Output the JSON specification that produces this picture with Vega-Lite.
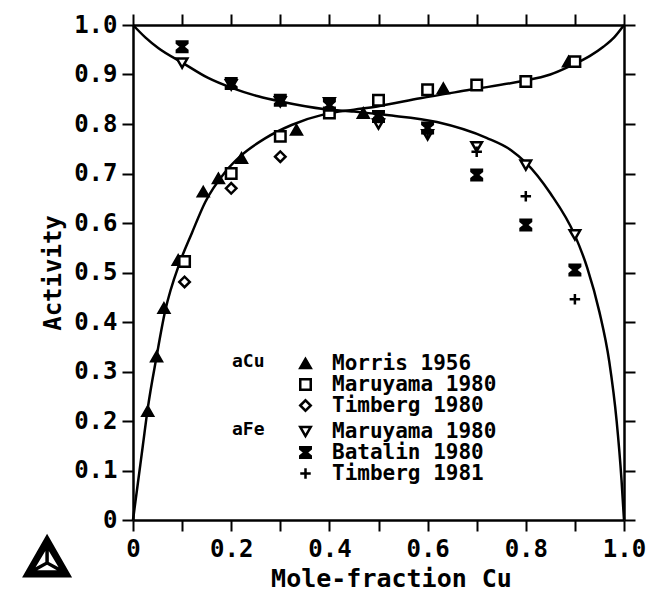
{
  "$schema": "https://vega.github.io/schema/vega-lite/v6.json",
  "width": 491,
  "height": 495,
  "autosize": "none",
  "padding": {"left": 133, "top": 25, "right": 33, "bottom": 72},
  "background": "white",
  "config": {
    "view": {"stroke": null},
    "font": "DejaVu Sans Mono",
    "axis": {
      "domainColor": "black", "domainWidth": 2.5, "tickColor": "black", "tickWidth": 2, "tickSize": 11,
      "grid": false, "labelColor": "black", "labelFont": "DejaVu Sans Mono", "labelFontWeight": "bold",
      "labelFontSize": 24, "titleFont": "DejaVu Sans Mono", "titleFontWeight": "bold", "titleColor": "black",
      "labelFlush": false, "labelOverlap": false
    },
    "legend": {
      "titleOrient": "left", "titleAnchor": "start", "titlePadding": 30,
      "titleFontSize": 18, "titleFont": "DejaVu Sans Mono", "titleFontWeight": "bold", "titleColor": "black",
      "labelFontSize": 21, "labelFont": "DejaVu Sans Mono", "labelFontWeight": "bold", "labelColor": "black",
      "labelLimit": 400, "labelOffset": 16, "rowPadding": -2, "symbolSize": 110, "symbolStrokeWidth": 2.5, "padding": 0
    }
  },
  "datasets": {
    "curves": [
      {"curve": "aCu", "x": 0, "y": 0}, {"curve": "aCu", "x": 0.01, "y": 0.075}, {"curve": "aCu", "x": 0.02, "y": 0.15},
      {"curve": "aCu", "x": 0.03, "y": 0.225}, {"curve": "aCu", "x": 0.048, "y": 0.33}, {"curve": "aCu", "x": 0.065, "y": 0.42},
      {"curve": "aCu", "x": 0.096, "y": 0.522}, {"curve": "aCu", "x": 0.12, "y": 0.58}, {"curve": "aCu", "x": 0.147, "y": 0.642},
      {"curve": "aCu", "x": 0.187, "y": 0.702}, {"curve": "aCu", "x": 0.221, "y": 0.737}, {"curve": "aCu", "x": 0.269, "y": 0.771},
      {"curve": "aCu", "x": 0.323, "y": 0.798}, {"curve": "aCu", "x": 0.391, "y": 0.82}, {"curve": "aCu", "x": 0.45, "y": 0.829},
      {"curve": "aCu", "x": 0.5, "y": 0.836}, {"curve": "aCu", "x": 0.585, "y": 0.852}, {"curve": "aCu", "x": 0.686, "y": 0.869},
      {"curve": "aCu", "x": 0.788, "y": 0.886}, {"curve": "aCu", "x": 0.85, "y": 0.9}, {"curve": "aCu", "x": 0.89, "y": 0.917},
      {"curve": "aCu", "x": 0.93, "y": 0.937}, {"curve": "aCu", "x": 0.958, "y": 0.956}, {"curve": "aCu", "x": 0.98, "y": 0.975},
      {"curve": "aCu", "x": 1, "y": 1},
      {"curve": "aFe", "x": 0, "y": 1}, {"curve": "aFe", "x": 0.025, "y": 0.975}, {"curve": "aFe", "x": 0.052, "y": 0.953},
      {"curve": "aFe", "x": 0.102, "y": 0.923}, {"curve": "aFe", "x": 0.153, "y": 0.893}, {"curve": "aFe", "x": 0.201, "y": 0.873},
      {"curve": "aFe", "x": 0.255, "y": 0.856}, {"curve": "aFe", "x": 0.303, "y": 0.845}, {"curve": "aFe", "x": 0.391, "y": 0.83},
      {"curve": "aFe", "x": 0.45, "y": 0.825}, {"curve": "aFe", "x": 0.517, "y": 0.818}, {"curve": "aFe", "x": 0.619, "y": 0.804},
      {"curve": "aFe", "x": 0.72, "y": 0.772}, {"curve": "aFe", "x": 0.77, "y": 0.747}, {"curve": "aFe", "x": 0.8, "y": 0.722},
      {"curve": "aFe", "x": 0.85, "y": 0.66}, {"curve": "aFe", "x": 0.9, "y": 0.575}, {"curve": "aFe", "x": 0.925, "y": 0.51},
      {"curve": "aFe", "x": 0.95, "y": 0.42}, {"curve": "aFe", "x": 0.97, "y": 0.32}, {"curve": "aFe", "x": 0.985, "y": 0.2},
      {"curve": "aFe", "x": 0.995, "y": 0.08}, {"curve": "aFe", "x": 1, "y": 0}
    ],
    "points": [
      {"comp": "aCu", "series": "Morris 1956", "x": 0.03, "y": 0.22},
      {"comp": "aCu", "series": "Morris 1956", "x": 0.048, "y": 0.33},
      {"comp": "aCu", "series": "Morris 1956", "x": 0.063, "y": 0.428},
      {"comp": "aCu", "series": "Morris 1956", "x": 0.092, "y": 0.525},
      {"comp": "aCu", "series": "Morris 1956", "x": 0.143, "y": 0.663},
      {"comp": "aCu", "series": "Morris 1956", "x": 0.174, "y": 0.69},
      {"comp": "aCu", "series": "Morris 1956", "x": 0.221, "y": 0.731},
      {"comp": "aCu", "series": "Morris 1956", "x": 0.333, "y": 0.788},
      {"comp": "aCu", "series": "Morris 1956", "x": 0.469, "y": 0.822},
      {"comp": "aCu", "series": "Morris 1956", "x": 0.632, "y": 0.872},
      {"comp": "aCu", "series": "Morris 1956", "x": 0.887, "y": 0.926},
      {"comp": "aCu", "series": "Maruyama 1980", "x": 0.105, "y": 0.522},
      {"comp": "aCu", "series": "Maruyama 1980", "x": 0.2, "y": 0.7},
      {"comp": "aCu", "series": "Maruyama 1980", "x": 0.3, "y": 0.775},
      {"comp": "aCu", "series": "Maruyama 1980", "x": 0.4, "y": 0.822},
      {"comp": "aCu", "series": "Maruyama 1980", "x": 0.5, "y": 0.848},
      {"comp": "aCu", "series": "Maruyama 1980", "x": 0.6, "y": 0.869},
      {"comp": "aCu", "series": "Maruyama 1980", "x": 0.7, "y": 0.879},
      {"comp": "aCu", "series": "Maruyama 1980", "x": 0.8, "y": 0.886},
      {"comp": "aCu", "series": "Maruyama 1980", "x": 0.9, "y": 0.926},
      {"comp": "aCu", "series": "Timberg 1980", "x": 0.105, "y": 0.481},
      {"comp": "aCu", "series": "Timberg 1980", "x": 0.2, "y": 0.67},
      {"comp": "aCu", "series": "Timberg 1980", "x": 0.3, "y": 0.734},
      {"comp": "aCu", "series": "Timberg 1980", "x": 0.5, "y": 0.81},
      {"comp": "aFe", "series": "Maruyama 1980", "x": 0.1, "y": 0.923},
      {"comp": "aFe", "series": "Maruyama 1980", "x": 0.2, "y": 0.879},
      {"comp": "aFe", "series": "Maruyama 1980", "x": 0.3, "y": 0.845},
      {"comp": "aFe", "series": "Maruyama 1980", "x": 0.4, "y": 0.843},
      {"comp": "aFe", "series": "Maruyama 1980", "x": 0.5, "y": 0.8},
      {"comp": "aFe", "series": "Maruyama 1980", "x": 0.6, "y": 0.778},
      {"comp": "aFe", "series": "Maruyama 1980", "x": 0.7, "y": 0.754},
      {"comp": "aFe", "series": "Maruyama 1980", "x": 0.8, "y": 0.717},
      {"comp": "aFe", "series": "Maruyama 1980", "x": 0.9, "y": 0.576},
      {"comp": "aFe", "series": "Batalin 1980", "x": 0.1, "y": 0.956},
      {"comp": "aFe", "series": "Batalin 1980", "x": 0.2, "y": 0.882},
      {"comp": "aFe", "series": "Batalin 1980", "x": 0.3, "y": 0.848},
      {"comp": "aFe", "series": "Batalin 1980", "x": 0.4, "y": 0.838},
      {"comp": "aFe", "series": "Batalin 1980", "x": 0.5, "y": 0.815},
      {"comp": "aFe", "series": "Batalin 1980", "x": 0.6, "y": 0.792},
      {"comp": "aFe", "series": "Batalin 1980", "x": 0.7, "y": 0.697},
      {"comp": "aFe", "series": "Batalin 1980", "x": 0.8, "y": 0.596},
      {"comp": "aFe", "series": "Batalin 1980", "x": 0.9, "y": 0.505},
      {"comp": "aFe", "series": "Timberg 1981", "x": 0.5, "y": 0.812},
      {"comp": "aFe", "series": "Timberg 1981", "x": 0.6, "y": 0.782},
      {"comp": "aFe", "series": "Timberg 1981", "x": 0.7, "y": 0.744},
      {"comp": "aFe", "series": "Timberg 1981", "x": 0.8, "y": 0.654},
      {"comp": "aFe", "series": "Timberg 1981", "x": 0.9, "y": 0.446}
    ],
    "logo": [{"x": -0.175, "y": -0.073}]
  },
  "layer": [
    {
      "data": {"name": "curves"},
      "mark": {"type": "line", "color": "black", "strokeWidth": 2.5, "interpolate": "monotone"},
      "encoding": {
        "x": {"field": "x", "type": "quantitative", "scale": {"domain": [0, 1], "nice": false, "zero": false},
          "axis": {"orient": "bottom", "values": [0, 0.1, 0.2, 0.3, 0.4, 0.5, 0.6, 0.7, 0.8, 0.9, 1.0],
            "labelExpr": "round(datum.value*10)%2==1 ? '' : (datum.value==0 ? '0' : format(datum.value,'.1f'))",
            "labelPadding": 6, "title": "Mole-fraction Cu", "titleFontSize": 25, "titlePadding": 5, "titleX": 258}},
        "y": {"field": "y", "type": "quantitative", "scale": {"domain": [0, 1], "nice": false, "zero": false},
          "axis": {"orient": "left", "values": [0, 0.1, 0.2, 0.3, 0.4, 0.5, 0.6, 0.7, 0.8, 0.9, 1.0],
            "labelExpr": "datum.value==0 ? '0' : format(datum.value,'.1f')",
            "labelPadding": 5, "title": "Activity", "titleFontSize": 24, "titlePadding": 8}},
        "detail": {"field": "curve"}
      }
    },
    {
      "data": {"name": "points"},
      "transform": [{"filter": "datum.comp == 'aCu'"}],
      "mark": {"type": "point", "filled": true, "strokeWidth": 2.5, "size": 110, "opacity": 1},
      "encoding": {
        "x": {"field": "x", "type": "quantitative", "axis": null},
        "y": {"field": "y", "type": "quantitative", "axis": null},
        "shape": {"field": "series", "type": "nominal",
          "scale": {"domain": ["Morris 1956", "Maruyama 1980", "Timberg 1980"], "range": ["triangle-up", "square", "diamond"]},
          "legend": {"title": "aCu", "orient": "none", "legendX": 99, "legendY": 328}},
        "fill": {"field": "series", "type": "nominal",
          "scale": {"domain": ["Morris 1956", "Maruyama 1980", "Timberg 1980"], "range": ["black", "white", "white"]},
          "legend": {"title": "aCu", "orient": "none", "legendX": 99, "legendY": 328}},
        "stroke": {"field": "series", "type": "nominal",
          "scale": {"domain": ["Morris 1956", "Maruyama 1980", "Timberg 1980"], "range": ["black", "black", "black"]},
          "legend": {"title": "aCu", "orient": "none", "legendX": 99, "legendY": 328}}
      }
    },
    {
      "data": {"name": "points"},
      "transform": [{"filter": "datum.comp == 'aFe'"}],
      "mark": {"type": "point", "filled": true, "strokeWidth": 2.5, "size": 110, "opacity": 1},
      "encoding": {
        "x": {"field": "x", "type": "quantitative", "axis": null},
        "y": {"field": "y", "type": "quantitative", "axis": null},
        "shape": {"field": "series", "type": "nominal",
          "scale": {"domain": ["Maruyama 1980", "Batalin 1980", "Timberg 1981"],
            "range": ["triangle-down", "M-1,-1H1V-0.7L0.15,0L1,0.7V1H-1V0.7L-0.15,0L-1,-0.7Z", "M-1,0L1,0M0,-1L0,1"]},
          "legend": {"title": "aFe", "orient": "none", "legendX": 99, "legendY": 396}},
        "fill": {"field": "series", "type": "nominal",
          "scale": {"domain": ["Maruyama 1980", "Batalin 1980", "Timberg 1981"], "range": ["white", "black", "black"]},
          "legend": {"title": "aFe", "orient": "none", "legendX": 99, "legendY": 396}},
        "stroke": {"field": "series", "type": "nominal",
          "scale": {"domain": ["Maruyama 1980", "Batalin 1980", "Timberg 1981"], "range": ["black", "black", "black"]},
          "legend": {"title": "aFe", "orient": "none", "legendX": 99, "legendY": 396}}
      }
    },
    {
      "data": {"name": "logo"},
      "mark": {"type": "point", "filled": true, "color": "black", "opacity": 1, "size": 2500,
        "shape": "M0,-0.9L1,0.85L-1,0.85Z M-0.07,-0.205L-0.46,0.445L-0.07,0.23Z M0.07,-0.205L0.07,0.23L0.46,0.445Z M0,0.347L-0.39,0.56L0.39,0.56Z"},
      "encoding": {
        "x": {"field": "x", "type": "quantitative", "scale": {"domain": [0, 1], "nice": false, "zero": false},
          "axis": {"orient": "top", "values": [0, 0.1, 0.2, 0.3, 0.4, 0.5, 0.6, 0.7, 0.8, 0.9, 1.0], "labels": false, "title": null}},
        "y": {"field": "y", "type": "quantitative", "scale": {"domain": [0, 1], "nice": false, "zero": false},
          "axis": {"orient": "right", "values": [0, 0.1, 0.2, 0.3, 0.4, 0.5, 0.6, 0.7, 0.8, 0.9, 1.0], "labels": false, "title": null}}
      }
    }
  ],
  "resolve": {"axis": {"x": "independent", "y": "independent"}, "scale": {"shape": "independent", "fill": "independent", "stroke": "independent"}}
}
